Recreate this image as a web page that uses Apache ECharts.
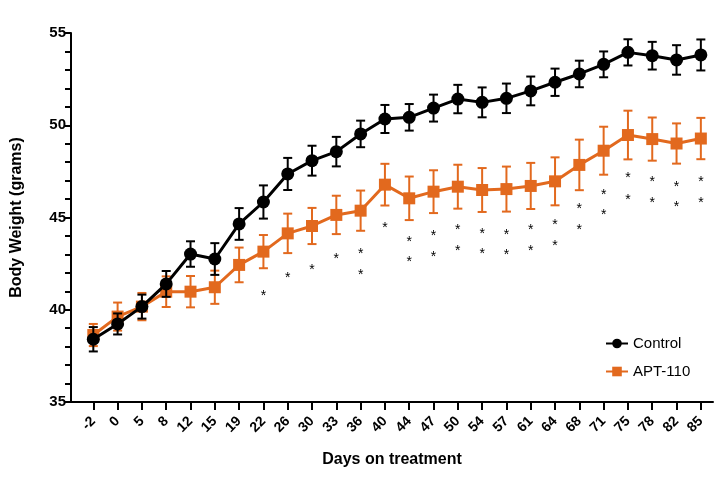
<!DOCTYPE html>
<html>
<head>
<meta charset="utf-8">
<script src="https://cdn.jsdelivr.net/npm/echarts@6/dist/echarts.min.js"></script>
<style>html,body{margin:0;padding:0;background:#fff;}#c{width:720px;height:479px;}</style>
</head>
<body>
<div id="c"></div>
<script>
const days = ['-2','0','5','8','12','15','19','22','26','30','33','36','40','44','47','50','54','57','61','64','68','71','75','78','82','85'];
const controlMean = [38.40,39.23,40.17,41.40,43.02,42.75,44.65,45.84,47.36,48.08,48.57,49.53,50.34,50.43,50.93,51.42,51.24,51.46,51.86,52.33,52.78,53.30,53.95,53.77,53.54,53.81];
const controlErr  = [0.66,0.57,0.65,0.70,0.69,0.86,0.86,0.90,0.87,0.81,0.80,0.72,0.76,0.72,0.73,0.77,0.81,0.80,0.78,0.74,0.72,0.70,0.71,0.75,0.80,0.84];
const aptMean = [38.63,39.63,40.17,40.98,40.98,41.22,42.43,43.15,44.14,44.54,45.14,45.37,46.78,46.04,46.40,46.67,46.49,46.54,46.71,46.96,47.85,48.62,49.47,49.25,49.01,49.28];
const aptErr  = [0.60,0.76,0.74,0.83,0.85,0.90,0.94,0.90,1.07,0.98,1.04,1.09,1.13,1.18,1.16,1.19,1.19,1.22,1.25,1.30,1.37,1.30,1.32,1.17,1.09,1.12];
// significance asterisks: [category index, y value]
const starIndex = [7,8,9,10,11,11,12,13,13,14,14,15,15,16,16,17,17,18,18,19,19,20,20,21,21,22,22,23,23,24,24,25,25];
const starY = [40.89,41.88,42.33,42.88,43.15,42.03,44.59,43.83,42.73,44.14,43.02,44.50,43.36,44.28,43.15,44.23,43.11,44.47,43.33,44.74,43.63,45.64,44.50,46.40,45.28,47.27,46.13,47.07,45.95,46.82,45.72,47.07,45.95];

const ORANGE = '#E2691E';
const FONT = '"Liberation Sans", Arial, Helvetica, sans-serif';
const idx = days.map((d, i) => i);

function errData(mean, err) { return mean.map((m, i) => [i, m - err[i], m + err[i]]); }
function errRender(color) {
  return function (params, api) {
    const x = api.value(0);
    const lo = api.coord([x, api.value(1)]);
    const hi = api.coord([x, api.value(2)]);
    const hw = 4.5;
    const style = { stroke: color, lineWidth: 2 };
    return { type: 'group', children: [
      { type: 'line', shape: { x1: lo[0], y1: lo[1], x2: hi[0], y2: hi[1] }, style },
      { type: 'line', shape: { x1: lo[0]-hw, y1: lo[1], x2: lo[0]+hw, y2: lo[1] }, style },
      { type: 'line', shape: { x1: hi[0]-hw, y1: hi[1], x2: hi[0]+hw, y2: hi[1] }, style }
    ]};
  };
}

const chart = echarts.init(document.getElementById('c'), null, { renderer: 'canvas' });
chart.setOption({
  animation: false,
  backgroundColor: '#fff',
  textStyle: { fontFamily: FONT },
  grid: { left: 71, right: 7, top: 33, bottom: 77, containLabel: false },
  legend: {
    orient: 'vertical', left: 600, top: 331, itemGap: 13, itemWidth: 22, itemHeight: 12,
    textStyle: { fontFamily: FONT, fontSize: 15, color: '#000' },
    data: ['Control', 'APT-110']
  },
  xAxis: {
    type: 'value', min: -0.918, max: 25.5,
    name: 'Days on treatment', nameLocation: 'middle', nameGap: 50,
    nameTextStyle: { fontFamily: FONT, fontWeight: 'bold', fontSize: 16, color: '#000' },
    axisLine: { show: true, onZero: false, lineStyle: { color: '#000', width: 2 } },
    axisTick: { show: true, customValues: idx, length: 8, lineStyle: { color: '#000', width: 2 } },
    axisLabel: { customValues: idx, rotate: 45, margin: 17, fontFamily: FONT, fontWeight: 'bold', fontSize: 14, color: '#000',
      formatter: v => days[Math.round(v)] },
    splitLine: { show: false }
  },
  yAxis: {
    type: 'value', min: 35, max: 55, interval: 5,
    name: 'Body Weight (grams)', nameLocation: 'middle', nameGap: 46,
    nameTextStyle: { fontFamily: FONT, fontWeight: 'bold', fontSize: 16, color: '#000' },
    axisLine: { show: true, onZero: false, lineStyle: { color: '#000', width: 2 } },
    axisTick: { show: true, length: 6, lineStyle: { color: '#000', width: 2 } },
    minorTick: { show: true, splitNumber: 5, length: 6, lineStyle: { color: '#000', width: 2 } },
    axisLabel: { margin: 5, fontFamily: FONT, fontWeight: 'bold', fontSize: 15, color: '#000' },
    splitLine: { show: false }, minorSplitLine: { show: false }
  },
  series: [
    { name: 'APT-110 err', type: 'custom', renderItem: errRender(ORANGE), data: errData(aptMean, aptErr), z: 1, silent: true },
    { name: 'APT-110', type: 'line', data: aptMean.map((m, i) => [i, m]), symbol: 'rect', symbolSize: 12,
      itemStyle: { color: ORANGE }, lineStyle: { color: ORANGE, width: 3 }, z: 2 },
    { name: 'Control err', type: 'custom', renderItem: errRender('#000'), data: errData(controlMean, controlErr), z: 3, silent: true },
    { name: 'Control', type: 'line', data: controlMean.map((m, i) => [i, m]), symbol: 'circle', symbolSize: 13,
      itemStyle: { color: '#000' }, lineStyle: { color: '#000', width: 3 }, z: 4 },
    { name: 'stars', type: 'custom', silent: true, z: 5,
      data: starIndex.map((s, i) => [s, starY[i]]),
      renderItem: function (params, api) {
        const p = api.coord([api.value(0), api.value(1)]);
        return { type: 'text', x: p[0], y: p[1] + 3,
          style: { text: '*', fill: '#000', font: '14px ' + FONT, textAlign: 'center', textVerticalAlign: 'middle' } };
      } }
  ]
});
</script>
</body>
</html>
